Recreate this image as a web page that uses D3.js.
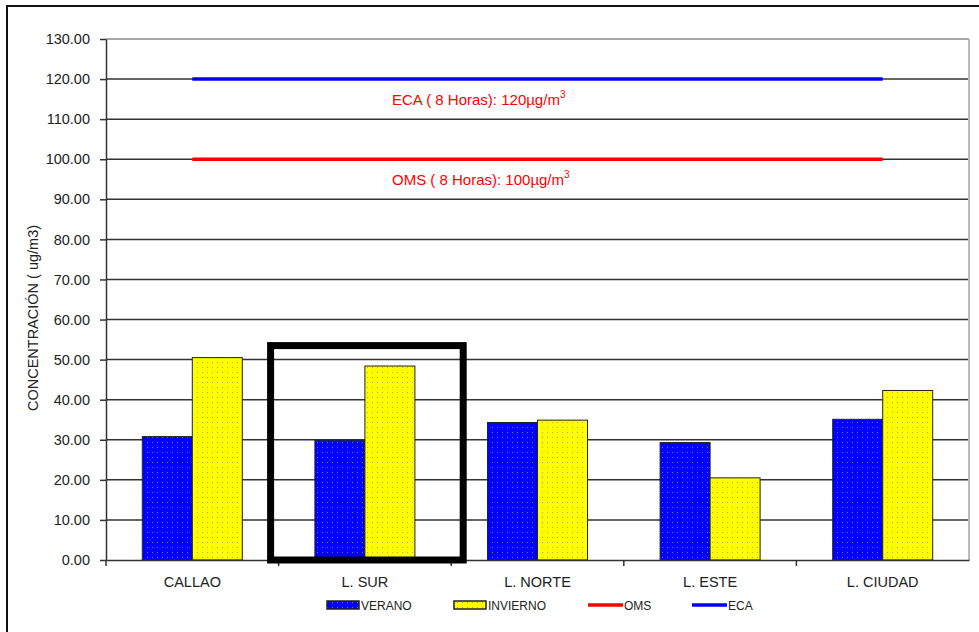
<!DOCTYPE html>
<html><head><meta charset="utf-8">
<script src="https://cdn.jsdelivr.net/npm/d3@7"></script>
<style>body{margin:0;background:#fff;} svg{display:block;font-family:"Liberation Sans",Arial,sans-serif;}</style>
</head><body>
<svg id="c" width="979" height="632"></svg>
<script>
const categories = ["CALLAO","L. SUR","L. NORTE","L. ESTE","L. CIUDAD"];
const verano = [30.8, 29.9, 34.3, 29.3, 35.1];
const invierno = [50.5, 48.4, 34.9, 20.5, 42.3];
const oms = [100, 100, 100, 100, 100];
const eca = [120, 120, 120, 120, 120];
const yTicks = [0,10,20,30,40,50,60,70,80,90,100,110,120,130];
const highlighted = "L. SUR";

const svg = d3.select("#c");
const W = 979, H = 632;
const m = {left:106, right:969, top:39, bottom:560};
const FF = "'Liberation Sans',Arial,sans-serif";

// outer frame
svg.append("rect").attr("x",7).attr("y",6).attr("width",W+20).attr("height",H+20)
  .attr("fill","none").attr("stroke","#111").attr("stroke-width",2);

const defs = svg.append("defs");
function dotPattern(id, bg, dot){
  const p = defs.append("pattern").attr("id",id).attr("patternUnits","userSpaceOnUse")
    .attr("width",5).attr("height",5);
  p.append("rect").attr("width",5).attr("height",5).attr("fill",bg);
  p.append("rect").attr("x",2).attr("y",2).attr("width",1).attr("height",1).attr("fill",dot);
}
dotPattern("pBlue","#0000ff","#7070ff");
dotPattern("pYellow","#ffff00","#c8a040");

const x = d3.scaleBand().domain(categories).range([m.left, m.right]);
const y = d3.scaleLinear().domain([0,130]).range([m.bottom, m.top]);
const inner = d3.scaleBand().domain(["v","i"]).range([0,100]);
const groupOffset = (x.bandwidth()-100)/2;

// gridlines
svg.append("g").selectAll("line").data(yTicks.filter(d=>d>0)).join("line")
  .attr("x1",m.left).attr("x2",m.right).attr("y1",d=>y(d)).attr("y2",d=>y(d))
  .attr("stroke",d=>d===130?"#888":"#333").attr("stroke-width",1.5);
// right border
svg.append("line").attr("x1",m.right).attr("x2",m.right).attr("y1",m.top).attr("y2",m.bottom)
  .attr("stroke","#bbb").attr("stroke-width",2);

// y axis
const ya = svg.append("g").attr("transform",`translate(${m.left},0)`)
  .call(d3.axisLeft(y).tickValues(yTicks).tickFormat(d3.format(".2f")).tickSize(6).tickSizeOuter(0));
ya.select(".domain").attr("stroke","#333").attr("stroke-width",1.5);
ya.selectAll(".tick line").attr("stroke","#333").attr("stroke-width",1.5);
ya.selectAll(".tick text").attr("font-size",14.5).attr("fill","#222").attr("x",-16)
  .attr("font-family",FF);

// bars
const series = [{k:"v",vals:verano,fill:"url(#pBlue)"},{k:"i",vals:invierno,fill:"url(#pYellow)"}];
series.forEach(s=>{
  svg.append("g").selectAll("rect").data(categories).join("rect")
    .attr("x",(c)=>x(c)+groupOffset+inner(s.k))
    .attr("width",inner.bandwidth())
    .attr("y",(c,i)=>y(s.vals[i]))
    .attr("height",(c,i)=>y(0)-y(s.vals[i]))
    .attr("fill",s.fill).attr("stroke","#222").attr("stroke-width",1);
});

// x axis
const xa = svg.append("g").attr("transform",`translate(0,${m.bottom})`)
  .call(d3.axisBottom(x).tickSize(0).tickSizeOuter(0));
xa.select(".domain").attr("stroke","#333").attr("stroke-width",1.5);
xa.selectAll(".tick text").attr("font-size",14.5).attr("fill","#222").attr("y",0).attr("dy",27)
  .attr("font-family",FF);
// category separators
svg.append("g").selectAll("line").data(categories.slice(1)).join("line")
  .attr("x1",c=>x(c)).attr("x2",c=>x(c)).attr("y1",m.bottom).attr("y2",m.bottom+6)
  .attr("stroke","#333").attr("stroke-width",1.5);
svg.append("line").attr("x1",m.left).attr("x2",m.left).attr("y1",m.bottom).attr("y2",m.bottom+6)
  .attr("stroke","#333").attr("stroke-width",1.5);

// limit lines
const line = d3.line().x(c=>x(c)+x.bandwidth()/2);
svg.append("path").datum(categories).attr("fill","none").attr("stroke","#ff0000").attr("stroke-width",3.5)
  .attr("d", line.y((c,i)=>y(oms[i])));
svg.append("path").datum(categories).attr("fill","none").attr("stroke","#0000ff").attr("stroke-width",3.5)
  .attr("d", line.y((c,i)=>y(eca[i])));

// annotations
function annot(yv, txt){
  const t = svg.append("text").attr("x",392).attr("y",y(yv)+26).attr("fill","#ff0000").attr("font-size",15);
  t.append("tspan").text(txt);
  t.append("tspan").attr("dy",-7).attr("font-size",10).text("3");
}
annot(120,"ECA ( 8 Horas): 120µg/m");
annot(100,"OMS ( 8 Horas): 100µg/m");

// highlight rectangle
svg.append("rect").attr("x",x(highlighted)-8).attr("y",y(53.5)).attr("width",x.bandwidth()+20)
  .attr("height",m.bottom-y(53.5))
  .attr("fill","none").attr("stroke","#000").attr("stroke-width",7);

// y title
svg.append("text").attr("transform","translate(38,318) rotate(-90)").attr("text-anchor","middle")
  .attr("font-size",14.5).attr("fill","#222").text("CONCENTRACIÓN ( ug/m3)");

// legend
const lg = svg.append("g").attr("font-size",12).attr("fill","#222");
const legendItems = [
  {type:"bar",fill:"url(#pBlue)",label:"VERANO",x:327},
  {type:"bar",fill:"url(#pYellow)",label:"INVIERNO",x:454},
  {type:"line",color:"#ff0000",label:"OMS",x:588},
  {type:"line",color:"#0000ff",label:"ECA",x:692}
];
legendItems.forEach(d=>{
  if(d.type==="bar"){
    lg.append("rect").attr("x",d.x).attr("y",601).attr("width",32).attr("height",8)
      .attr("fill",d.fill).attr("stroke","#222").attr("stroke-width",1.5);
  } else {
    lg.append("line").attr("x1",d.x).attr("x2",d.x+35).attr("y1",605).attr("y2",605)
      .attr("stroke",d.color).attr("stroke-width",3.5);
  }
  lg.append("text").attr("x",d.x+(d.type==="bar"?34:36)).attr("y",610).text(d.label);
});
</script>
</body></html>
